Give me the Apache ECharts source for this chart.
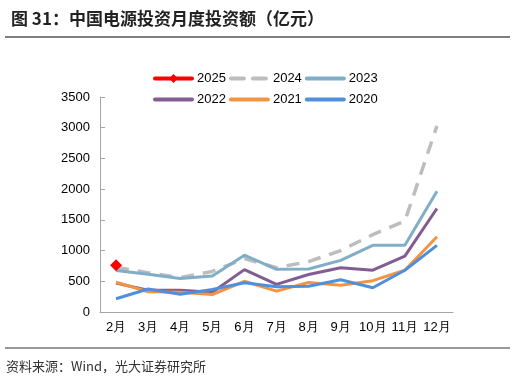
<!DOCTYPE html>
<html>
<head>
<meta charset="utf-8">
<script src="https://cdn.jsdelivr.net/npm/echarts@6/dist/echarts.min.js"></script>
<style>
html,body{margin:0;padding:0;background:#fff;}
#c{width:515px;height:382px;}
</style>
</head>
<body>
<div id="c"></div>
<script>
const months = ['2月','3月','4月','5月','6月','7月','8月','9月','10月','11月','12月'];
const y2025 = [760];
const y2024 = [730, 640, 560, 660, 870, 720, 820, 1000, 1260, 1480, 3030];
const y2023 = [675, 615, 545, 585, 925, 695, 700, 840, 1085, 1085, 1965];
const y2022 = [470, 355, 355, 320, 690, 450, 610, 720, 680, 910, 1685];
const y2021 = [485, 330, 320, 285, 500, 340, 480, 435, 510, 680, 1225];
const y2020 = [215, 375, 290, 365, 475, 410, 420, 525, 395, 680, 1085];
const yTicks = {min: 0, max: 3500, interval: 500};

const chart = echarts.init(document.getElementById('c'));
const font = 'Liberation Sans, Arial, sans-serif';
function lineSeries(name, data, color, extra) {
  return Object.assign({
    name: name, type: 'line', data: data, symbol: 'none',
    lineStyle: {color: color, width: 3}, itemStyle: {color: color},
    emphasis: {disabled: true}, animation: false
  }, extra || {});
}
function li(name) { return {name: name, itemStyle: {opacity: 0}, lineStyle: {width: 4, cap: 'round'}}; }
const legendText = {fontSize: 13, color: '#000', fontFamily: font};
chart.setOption({
  animation: false,
  backgroundColor: '#fff',
  title: {
    text: '图 31：中国电源投资月度投资额（亿元）',
    left: 6, top: 5,
    textStyle: {fontSize: 17, fontWeight: 'bold', color: '#222', fontFamily: 'Noto Sans CJK SC'}
  },
  legend: [
    {data: [{name: '2025', lineStyle: {width: 4, cap: 'round'}}, li('2024'), li('2023')], left: 148, top: 67, itemWidth: 37, itemHeight: 11, itemGap: 3,
     textStyle: legendText},
    {data: [li('2022'), li('2021'), li('2020')], left: 148, top: 88, itemWidth: 37, itemHeight: 11, itemGap: 3,
     textStyle: legendText}
  ],
  grid: {left: 100, right: 62, top: 97, bottom: 70},
  xAxis: {
    type: 'category', data: months, boundaryGap: true,
    axisLine: {lineStyle: {color: '#a6a6a6', width: 1}},
    axisTick: {inside: true, length: 5, lineStyle: {color: '#a6a6a6'}},
    axisLabel: {fontSize: 13, color: '#000', margin: 9, fontFamily: font, interval: 0}
  },
  yAxis: {
    type: 'value', min: yTicks.min, max: yTicks.max, interval: yTicks.interval,
    axisLine: {show: true, lineStyle: {color: '#a6a6a6', width: 1}},
    axisTick: {show: true, inside: true, length: 5, lineStyle: {color: '#a6a6a6'}},
    splitLine: {show: false},
    axisLabel: {fontSize: 13, color: '#000', margin: 10, fontFamily: font, formatter: function (v) { return String(v); }}
  },
  series: [
    lineSeries('2024', y2024, '#bdbdbd', {lineStyle: {color: '#bdbdbd', width: 3.5, type: [13, 9]}, z: 2}),
    lineSeries('2023', y2023, '#80aec6', {z: 3}),
    lineSeries('2022', y2022, '#835c92', {z: 3}),
    lineSeries('2021', y2021, '#f39442', {z: 4}),
    lineSeries('2020', y2020, '#4f8fdc', {z: 5}),
    lineSeries('2025', y2025, '#ff0000', {symbol: 'diamond', symbolSize: 12, showSymbol: true, z: 10,
      lineStyle: {color: '#ff0000', width: 4}})
  ],
  graphic: [
    {type: 'line', shape: {x1: 5, y1: 37, x2: 510, y2: 37}, style: {stroke: '#555', lineWidth: 1.5}},
    {type: 'line', shape: {x1: 5, y1: 348, x2: 510, y2: 348}, style: {stroke: '#777', lineWidth: 1.5}},
    {type: 'text', left: 6, top: 360, style: {text: '资料来源：Wind，光大证券研究所', fontSize: 13, fill: '#333', fontFamily: 'Noto Sans CJK SC'}}
  ]
});
</script>
</body>
</html>
